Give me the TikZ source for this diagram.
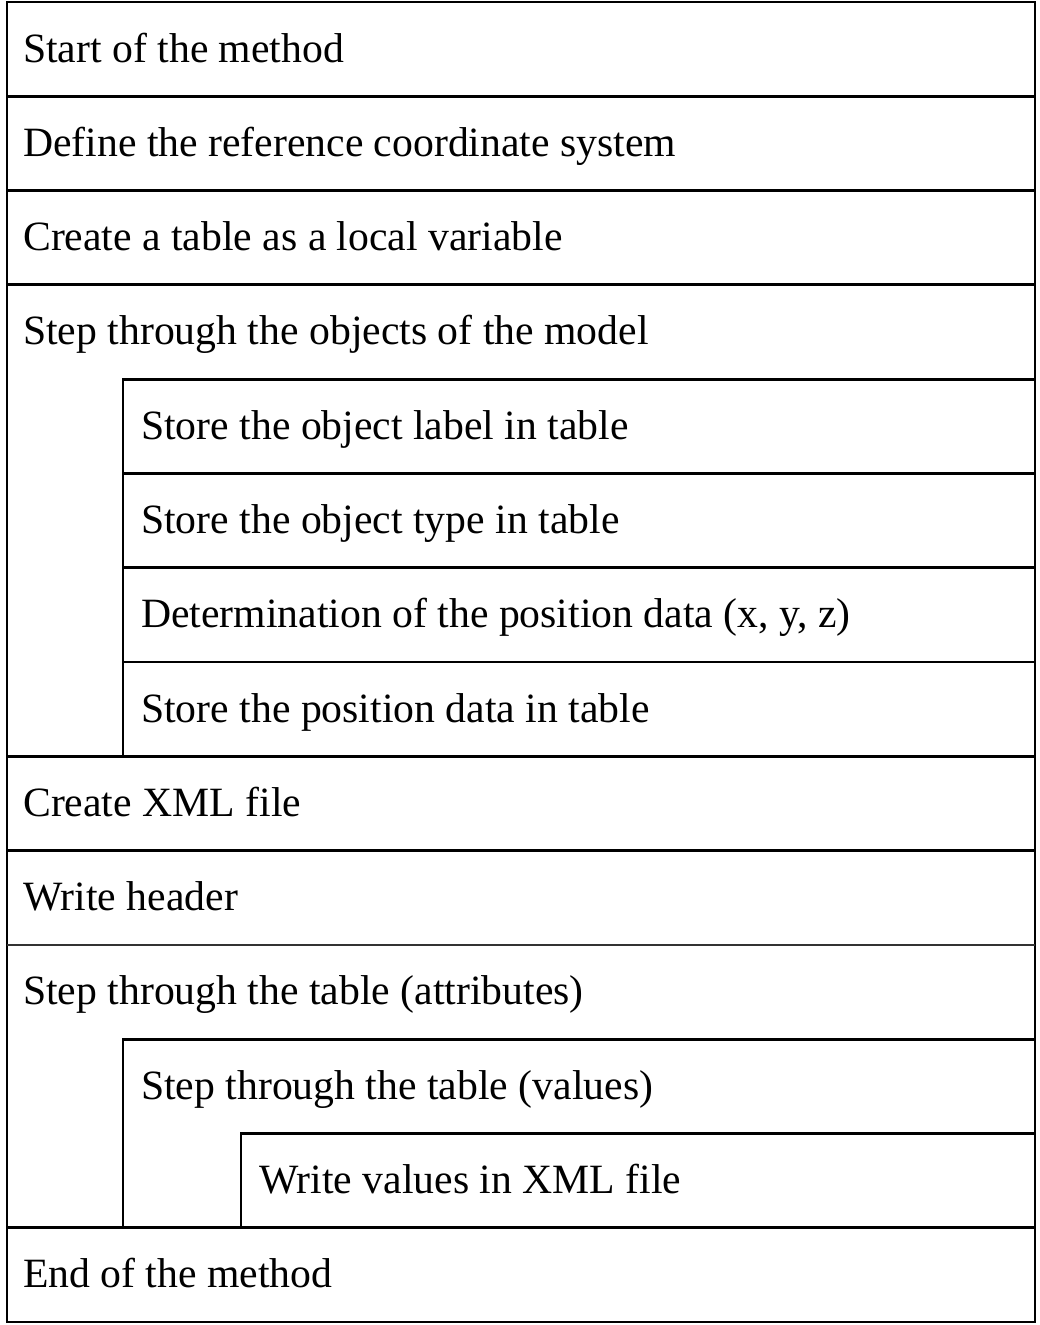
\documentclass[tikz,border=0pt]{standalone}
\usepackage{fontspec}
\setmainfont{Liberation Serif}
\begin{document}
\begin{tikzpicture}[x=1pt,y=-1pt,
  rule/.style={line width=2.8pt,line cap=rect},
  thinrule/.style={line width=1.2pt,draw=black!80},
  lbl/.style={anchor=base west,inner sep=0pt,font=\fontsize{41.7}{48}\selectfont}]
\useasboundingbox (0,0) rectangle (1040,1325);
% row height
\def\rh{94.29}
% outer frame
\draw[rule] (7,2) rectangle (1035,1322);
% full-width separators
\foreach \i in {1,2,3,8,9,13}{\draw[rule] (7,{2+\rh*\i}) -- (1035,{2+\rh*\i});}
\draw[thinrule] (7,{2+\rh*10}) -- (1035,{2+\rh*10});
% first loop body
\foreach \i in {4,5,6,7}{\draw[rule] (123,{2+\rh*\i}) -- (1035,{2+\rh*\i});}
\draw[rule] (123,{2+\rh*4}) -- (123,{2+\rh*8});
% nested loops
\draw[rule] (123,{2+\rh*11}) -- (1035,{2+\rh*11});
\draw[rule] (123,{2+\rh*11}) -- (123,{2+\rh*13});
\draw[rule] (241,{2+\rh*12}) -- (1035,{2+\rh*12});
\draw[rule] (241,{2+\rh*12}) -- (241,{2+\rh*13});
% labels
\node[lbl] (t0)  at (23,{62+\rh*0})  {Start of the method};
\node[lbl] (t1)  at (23,{62+\rh*1})  {Define the reference coordinate system};
\node[lbl] (t2)  at (23,{62+\rh*2})  {Create a table as a local variable};
\node[lbl] (t3)  at (23,{62+\rh*3})  {Step through the objects of the model};
\node[lbl] (t4)  at (141,{62+\rh*4}) {Store the object label in table};
\node[lbl] (t5)  at (141,{62+\rh*5}) {Store the object type in table};
\node[lbl] (t6)  at (141,{62+\rh*6}) {Determination of the position data (x, y, z)};
\node[lbl] (t7)  at (141,{62+\rh*7}) {Store the position data in table};
\node[lbl] (t8)  at (23,{62+\rh*8})  {Create XML file};
\node[lbl] (t9)  at (23,{62+\rh*9})  {Write header};
\node[lbl] (t10) at (23,{62+\rh*10}) {Step through the table (attributes)};
\node[lbl] (t11) at (141,{62+\rh*11}) {Step through the table (values)};
\node[lbl] (t12) at (259,{62+\rh*12}) {Write values in XML file};
\node[lbl] (t13) at (23,{62+\rh*13}) {End of the method};
\end{tikzpicture}
\end{document}
